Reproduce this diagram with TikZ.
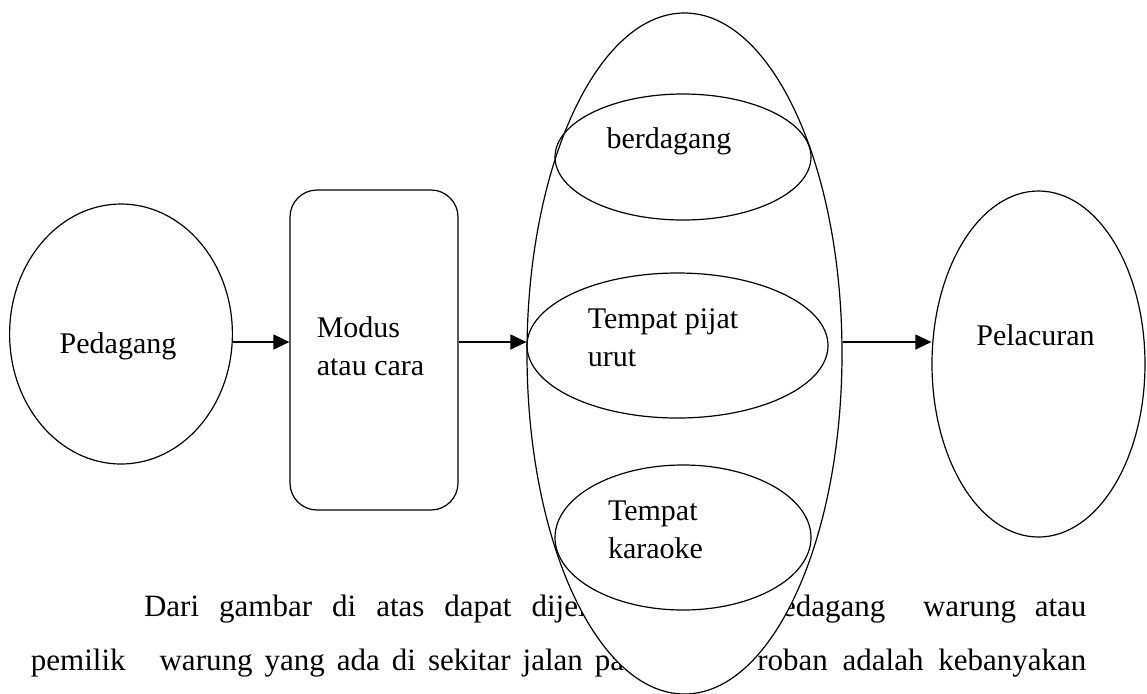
\documentclass[tikz,border=0pt]{standalone}
\usepackage{fontspec}
\setmainfont{Liberation Serif}
\usetikzlibrary{arrows.meta,shapes.geometric}

\begin{document}
\begin{tikzpicture}[->,>={Triangle[length=8pt,width=7.5pt]},x=0.5pt,y=-0.5pt,
                    semithick]
  \tikzstyle{every node}=[font=\fontsize{15}{19}\selectfont]
  \tikzstyle{blob}=[ellipse,draw,inner sep=0pt]
  \tikzstyle{body}=[font=\fontsize{15.5}{19}\selectfont,inner sep=0pt]
  \useasboundingbox (0,0) rectangle (1147,693);

  % text under the picture
  \node[body,anchor=base west] (dari) at (143.5,616)
    {\spaceskip=10pt\relax Dari gambar di atas dapat dijel};
  \node[body,anchor=base east] (atau) at (1087,616)
    {edagang\hspace{18.85pt}warung\hspace{9.35pt}atau};
  \node[body,anchor=base west] (pemilik) at (30.3,670)
    {\spaceskip=6pt\relax pemilik\hspace{17pt}warung yang ada di sekitar jalan pa};
  \node[body,anchor=base east] (roban) at (1087,670)
    {\spaceskip=7.4pt\relax roban adalah kebanyakan};

  % shapes
  \node[blob,fill=white,minimum width=157.5pt,minimum height=340.5pt] (tempat) at (684.5,353.5) {};
  \node[blob,minimum width=128pt,minimum height=63pt,
        label={[xshift=-7pt,yshift=8pt]center:berdagang}] (dagang) at (683,157) {};
  \node[blob,minimum width=150.5pt,minimum height=72.5pt,
        label={[align=left,xshift=-7.25pt,yshift=3.9pt]center:Tempat pijat\\urut}] (pijat) at (677.5,345.5) {};
  \node[blob,minimum width=128pt,minimum height=72.5pt,
        label={[align=left,xshift=-13.75pt,yshift=3.9pt]center:Tempat\\karaoke}] (karaoke) at (683,537.5) {};

  \node[blob,minimum width=111.4pt,minimum height=130pt,
        label={[xshift=-1.5pt,yshift=-6pt]center:Pedagang}] (ped) at (121,334) {};
  \node[draw,rounded corners=13.5pt,minimum width=84pt,minimum height=160pt,
        label={[align=left,xshift=-1.75pt,yshift=2.1pt]center:Modus\\atau cara}] (modus) at (374,350) {};
  \node[blob,minimum width=106.5pt,minimum height=173pt,
        label={[xshift=-1.5pt,yshift=14.5pt]center:Pelacuran}] (pel) at (1038.5,364) {};

  \coordinate (row) at (0,342);

  \path (ped.east |- row) edge (modus.west |- row)
        (modus.east |- row) edge (tempat.west |- row)
        (tempat.east |- row) edge (pel.west |- row);
\end{tikzpicture}
\end{document}
